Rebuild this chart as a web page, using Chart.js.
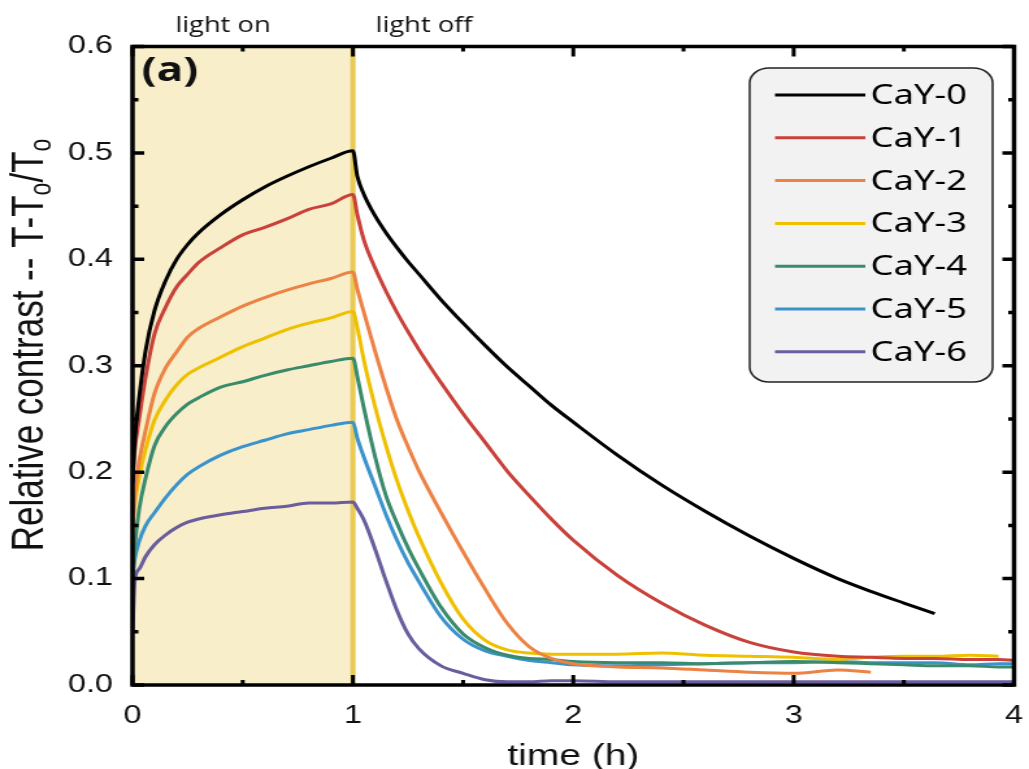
<!DOCTYPE html>
<html>
<head>
<meta charset="utf-8">
<script src="https://cdn.jsdelivr.net/npm/chart.js@4.4.0/dist/chart.umd.min.js"></script>
<style>
  html, body { margin: 0; padding: 0; background: #fff; overflow: hidden; }
  /* the source figure is stretched sideways, so the canvas is too */
  #wrap { width: 792px; height: 769px; transform: scaleX(1.29924); transform-origin: 0 0; }
</style>
</head>
<body>
<div id="wrap"><canvas id="chart" width="792" height="769"></canvas></div>
<script>
const times = [0, 0.01, 0.03, 0.06, 0.1, 0.15, 0.2, 0.25, 0.3, 0.4, 0.5, 0.6, 0.7, 0.8, 0.9, 1.0,
  1.02, 1.05, 1.1, 1.15, 1.2, 1.25, 1.3, 1.4, 1.5, 1.6, 1.7, 1.8, 1.9, 2.0,
  2.2, 2.4, 2.6, 2.8, 3.0, 3.2, 3.35, 3.5, 3.64, 3.8, 3.93, 4.0];

const cay0 = [0.19, 0.23, 0.27, 0.315, 0.352, 0.38, 0.400, 0.414, 0.425, 0.442, 0.456, 0.468, 0.478, 0.487, 0.495, 0.502,
  0.478, 0.461, 0.441, 0.425, 0.411, 0.398, 0.386, 0.362, 0.340, 0.319, 0.299, 0.281, 0.263, 0.247,
  0.216, 0.188, 0.163, 0.140, 0.119, 0.100, 0.088, 0.077, 0.067, null, null, null];
const cay1 = [0.19, 0.22, 0.25, 0.29, 0.33, 0.355, 0.374, 0.386, 0.397, 0.411, 0.423, 0.430, 0.438, 0.447, 0.452, 0.461,
  0.442, 0.418, 0.392, 0.370, 0.350, 0.332, 0.315, 0.284, 0.255, 0.228, 0.201, 0.178, 0.156, 0.136,
  0.103, 0.077, 0.056, 0.040, 0.031, 0.027, 0.026, 0.025, 0.025, 0.024, 0.024, 0.023];
const cay2 = [0.15, 0.18, 0.21, 0.24, 0.274, 0.298, 0.313, 0.327, 0.335, 0.346, 0.356, 0.364, 0.371, 0.377, 0.382, 0.388,
  0.372, 0.350, 0.314, 0.280, 0.249, 0.224, 0.201, 0.162, 0.125, 0.090, 0.058, 0.036, 0.025, 0.020,
  0.017, 0.016, 0.014, 0.012, 0.011, 0.014, 0.012, null, null, null, null, null];
const cay3 = [0.15, 0.17, 0.195, 0.222, 0.249, 0.268, 0.282, 0.292, 0.298, 0.308, 0.318, 0.326, 0.334, 0.340, 0.345, 0.351,
  0.336, 0.305, 0.262, 0.225, 0.192, 0.164, 0.139, 0.096, 0.062, 0.042, 0.033, 0.030, 0.029, 0.029,
  0.029, 0.030, 0.028, 0.027, 0.026, 0.024, 0.026, 0.027, 0.027, 0.028, 0.027, null];
const cay4 = [0.10, 0.13, 0.165, 0.195, 0.225, 0.243, 0.255, 0.264, 0.270, 0.280, 0.285, 0.291, 0.296, 0.300, 0.304, 0.307,
  0.29, 0.26, 0.215, 0.178, 0.152, 0.129, 0.109, 0.073, 0.048, 0.035, 0.028, 0.025, 0.024, 0.022,
  0.021, 0.021, 0.020, 0.021, 0.022, 0.021, 0.020, 0.019, 0.018, 0.018, 0.017, 0.017];
const cay5 = [0.10, 0.118, 0.135, 0.150, 0.162, 0.176, 0.188, 0.198, 0.205, 0.216, 0.224, 0.230, 0.236, 0.240, 0.244, 0.247,
  0.232, 0.214, 0.187, 0.160, 0.136, 0.115, 0.097, 0.064, 0.043, 0.032, 0.027, 0.023, 0.021, 0.019,
  0.018, 0.019, 0.020, 0.021, 0.021, 0.022, 0.021, 0.021, 0.021, 0.019, 0.020, 0.020];
const cay6 = [0.05, 0.098, 0.109, 0.121, 0.132, 0.141, 0.148, 0.153, 0.156, 0.160, 0.163, 0.166, 0.168, 0.171, 0.171, 0.172,
  0.166, 0.155, 0.128, 0.098, 0.070, 0.048, 0.034, 0.018, 0.011, 0.005, 0.003, 0.003, 0.004, 0.004,
  0.003, 0.003, 0.003, 0.003, 0.003, 0.003, 0.003, 0.003, 0.003, 0.003, 0.003, 0.003];

const seriesNames = ["CaY-0", "CaY-1", "CaY-2", "CaY-3", "CaY-4", "CaY-5", "CaY-6"];
const seriesValues = [cay0, cay1, cay2, cay3, cay4, cay5, cay6];
const seriesColors = ["#000000", "#c8413a", "#ec8244", "#efc000", "#3a8b6c", "#3b93cc", "#695d9d"];

const xTickLabels = ["0", "1", "2", "3", "4"];
const yTickLabels = ["0.0", "0.1", "0.2", "0.3", "0.4", "0.5", "0.6"];
const lightOnSpan = [0, 1];

function toPoints(values) {
  const pts = [];
  for (let i = 0; i < times.length; i++) {
    if (values[i] !== null) pts.push({ x: times[i], y: values[i] });
  }
  return pts;
}

const decorPlugin = {
  id: "decor",
  beforeDatasetsDraw(chart) {
    const { ctx, chartArea: a, scales: { x } } = chart;
    const x0 = x.getPixelForValue(lightOnSpan[0]);
    const x1 = x.getPixelForValue(lightOnSpan[1]);
    ctx.save();
    ctx.fillStyle = "#f8efca";
    ctx.fillRect(x0, a.top, x1 - x0, a.bottom - a.top);
    ctx.strokeStyle = "#eacb52";
    ctx.lineWidth = 4;
    ctx.beginPath();
    ctx.moveTo(x1, a.top);
    ctx.lineTo(x1, a.bottom);
    ctx.stroke();
    ctx.restore();
  },
  afterDatasetsDraw(chart) {
    const { ctx, chartArea: a, scales: { x, y } } = chart;
    ctx.save();

    // frame
    ctx.strokeStyle = "#000";
    ctx.lineWidth = 3.5;
    ctx.strokeRect(a.left, a.top, a.right - a.left, a.bottom - a.top);

    // inward ticks on all four sides
    ctx.lineWidth = 3;
    ctx.beginPath();
    for (let v = 0; v <= 4.001; v += 0.5) {
      const px = x.getPixelForValue(v);
      const len = Math.abs(v - Math.round(v)) < 0.01 ? 10 : 5;
      ctx.moveTo(px, a.bottom); ctx.lineTo(px, a.bottom - len);
      ctx.moveTo(px, a.top); ctx.lineTo(px, a.top + len);
    }
    ctx.stroke();
    ctx.lineWidth = 3.5;
    ctx.beginPath();
    for (let k = 0; k <= 12; k++) {
      const py = y.getPixelForValue(k * 0.05);
      const len = k % 2 === 0 ? 9 : 4.5;
      ctx.moveTo(a.left, py); ctx.lineTo(a.left + len, py);
      ctx.moveTo(a.right, py); ctx.lineTo(a.right - len, py);
    }
    ctx.stroke();

    // annotations
    ctx.fillStyle = "#111";
    ctx.textBaseline = "alphabetic";
    ctx.textAlign = "center";
    ctx.font = "21px 'Open Sans'";
    ctx.fillText("light on", 171.6, 32);
    ctx.fillText("light off", 326.4, 32);
    ctx.textAlign = "left";
    ctx.font = "bold 34px 'Open Sans'";
    ctx.fillText("(a)", 109, 81);

    // y axis title with subscripts
    ctx.save();
    ctx.translate(33, 345);
    ctx.rotate(-Math.PI / 2);
    const big = "35px 'Liberation Sans'";
    const small = "23px 'Liberation Sans'";
    ctx.font = big;
    const w1 = ctx.measureText("Relative contrast -- T-T").width;
    const w2 = ctx.measureText("/T").width;
    ctx.font = small;
    const ws = ctx.measureText("o").width;
    let cx = -(w1 + ws + w2 + ws) / 2;
    ctx.font = big;
    ctx.fillText("Relative contrast -- T-T", cx, 0); cx += w1;
    ctx.font = small;
    ctx.fillText("o", cx, 6); cx += ws;
    ctx.font = big;
    ctx.fillText("/T", cx, 0); cx += w2;
    ctx.font = small;
    ctx.fillText("o", cx, 6);
    ctx.restore();

    // legend
    const bx = 577, by = 68, bw = 187, bh = 314;
    ctx.beginPath();
    ctx.roundRect(bx, by, bw, bh, 15);
    ctx.fillStyle = "#f2f2f2";
    ctx.fill();
    ctx.strokeStyle = "#222";
    ctx.lineWidth = 1.5;
    ctx.stroke();
    ctx.font = "28px 'Noto Sans'";
    ctx.textBaseline = "middle";
    ctx.textAlign = "left";
    seriesNames.forEach((name, i) => {
      const ly = 95 + i * 42.8;
      ctx.strokeStyle = seriesColors[i];
      ctx.lineWidth = 3;
      ctx.beginPath();
      ctx.moveTo(596.5, ly);
      ctx.lineTo(666, ly);
      ctx.stroke();
      ctx.fillStyle = "#000";
      ctx.fillText(name, 670, ly + 1);
    });

    ctx.restore();
  }
};

const chart = new Chart(document.getElementById("chart"), {
  type: "line",
  data: {
    datasets: seriesNames.map((name, i) => ({
      label: name,
      data: toPoints(seriesValues[i]),
      borderColor: seriesColors[i],
      borderWidth: 3,
      pointRadius: 0,
      fill: false,
      cubicInterpolationMode: "monotone"
    }))
  },
  options: {
    responsive: false,
    animation: false,
    devicePixelRatio: 1,
    layout: { padding: { left: 0, right: 11.5, top: 46.5, bottom: 0 } },
    plugins: {
      legend: { display: false },
      tooltip: { enabled: false }
    },
    scales: {
      x: {
        type: "linear",
        min: 0,
        max: 4,
        grid: { display: false, drawTicks: false },
        border: { display: false },
        ticks: {
          stepSize: 1,
          maxRotation: 0,
          padding: 16,
          color: "#111",
          font: { family: "'Liberation Sans'", size: 25 },
          callback: (value, index) => xTickLabels[index]
        },
        title: {
          display: true,
          text: "time (h)",
          color: "#111",
          padding: 0,
          font: { family: "'Liberation Sans'", size: 30, lineHeight: 0.8 }
        },
        afterFit: (scale) => {
          scale.height = 84;
          scale.paddingLeft = 0;
          scale.paddingRight = 0;
        }
      },
      y: {
        min: 0,
        max: 0.6,
        grid: { display: false, drawTicks: false },
        border: { display: false },
        ticks: {
          stepSize: 0.1,
          padding: 15,
          color: "#111",
          font: { family: "'Liberation Sans'", size: 25 },
          callback: (value, index) => yTickLabels[index]
        },
        afterFit: (scale) => { scale.width = 102; }
      }
    }
  },
  plugins: [decorPlugin]
});
</script>
</body>
</html>
